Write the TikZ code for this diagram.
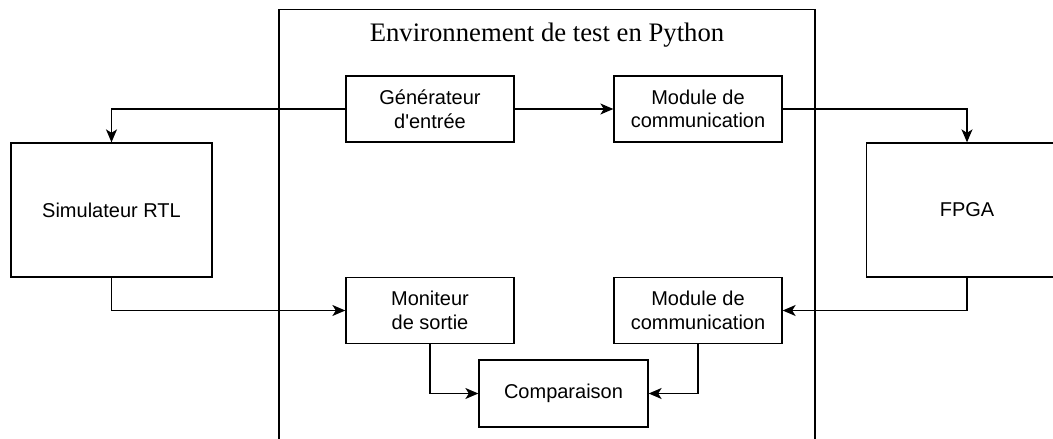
\documentclass[tikz,border=0pt]{standalone}
\usepackage{fontspec}
\setmainfont{Liberation Serif}
\newfontfamily\diagsans{Liberation Sans}
\usetikzlibrary{arrows.meta}
\begin{document}
\begin{tikzpicture}[x=1pt,y=-1pt,
  blk/.style={draw=black,line width=1.3pt,rectangle,align=center,inner sep=0pt,
    font=\diagsans\fontsize{20}{23.5}\selectfont,text=black},
  small/.style={blk,minimum width=168pt,minimum height=66pt},
  big/.style={blk,minimum width=201pt,minimum height=134pt},
  conn/.style={line width=1.3pt,-{Stealth[length=13pt,width=11pt,inset=3.5pt]}},
  frame/.style={draw=black,line width=1.3pt}]
\useasboundingbox (0,0) rectangle (1053,439);
\clip (0,0) rectangle (1053,439);
\fill[white] (0,0) rectangle (1053,439);
% container (open at the bottom, cut by the picture's edge)
\draw[frame] (279,460) -- (279,9.5) -- (815,9.5) -- (815,460);
\node[font=\fontsize{26.7}{30}\selectfont,text=black] (title) at (547,35) {Environnement de test en Python};
% nodes
\node[small] (gen) at (430,109) {Générateur\\d'entrée};
\node[small] (com1) at (698,109) {Module de\\communication};
\node[big] (sim) at (111.5,210) {Simulateur RTL};
\node[big] (fpga) at (967,210) {FPGA};
\node[small] (mon) at (430,310.5) {Moniteur\\de sortie};
\node[small] (com2) at (698,310.5) {Module de\\communication};
\node[small,minimum width=169pt,minimum height=67pt] (comp) at (563.5,393.5) {Comparaison};
% connectors
\draw[conn] (gen.west) -| (sim.north);
\draw[conn] (gen.east) -- (com1.west);
\draw[conn] (com1.east) -| (fpga.north);
\draw[conn] (sim.south) |- (mon.west);
\draw[conn] (fpga.south) |- (com2.east);
\draw[conn] (mon.south) |- (comp.west);
\draw[conn] (com2.south) |- (comp.east);
\end{tikzpicture}
\end{document}
